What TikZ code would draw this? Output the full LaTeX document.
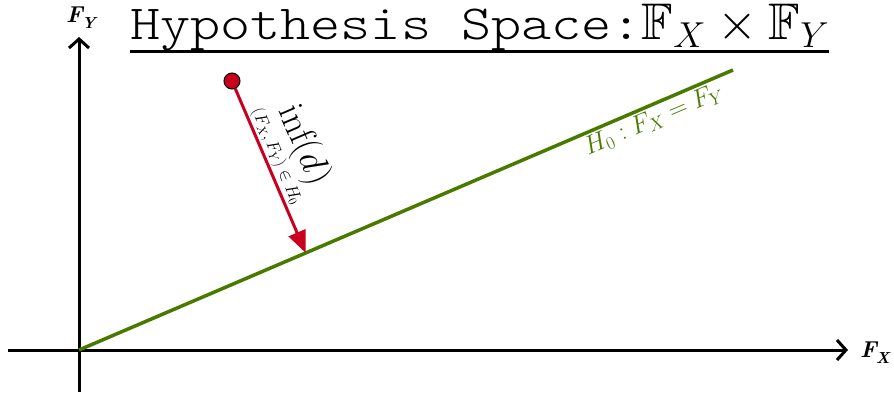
\RequirePackage{fix-cm}
\documentclass[tikz,border=0pt]{standalone}
\usepackage{amsmath,amssymb}
\usepackage{fontspec}
\setmonofont[FakeStretch=1.17]{Latin Modern Mono Light}
\usetikzlibrary{arrows.meta}
\definecolor{hgreen}{RGB}{72,122,0}
\definecolor{hred}{RGB}{200,0,30}
\newcommand{\axlabel}[1]{{\fontsize{23}{25}\selectfont\bfseries\itshape F\kern-1pt\raisebox{-0.25em}{\fontsize{16}{16}\selectfont #1}}}
\begin{document}
\begin{tikzpicture}[x=1pt,y=-1pt,
  axis/.style={line width=3pt,-{Straight Barb[length=9pt,width=20pt,line width=3pt]}},
  hline/.style={line width=3.5pt,hgreen},
  redarrow/.style={line width=3pt,hred,-{Triangle[length=22pt,width=18pt]}},
  dot/.style={circle,fill=hred,draw=black,line width=1pt,minimum size=16pt,inner sep=0pt},
  axlab/.style={inner sep=0pt}]
\useasboundingbox (0,0) rectangle (894,396);
\coordinate (o) at (79,350);
\coordinate (xs) at (8,350);
\coordinate (xe) at (848,350);
\coordinate (ys) at (79,392);
\coordinate (ye) at (79,37);
\draw[axis] (xs) -- (xe);
\draw[axis] (ys) -- (ye);
\node[axlab,anchor=west] (fx) at (860,353) {\axlabel{X}};
\node[axlab] (fy) at (81,18) {\axlabel{Y}};
\node[anchor=base west,inner sep=0pt,font=\fontsize{49}{52}\selectfont\ttfamily] (title) at (130,40) {Hypothesis Space:{\fontsize{51.5}{54}\selectfont$\mathbb{F}_X\times\mathbb{F}_Y$}};
\draw[line width=3pt] (title.west |- 0,52) -- (title.east |- 0,52);
\coordinate (h1) at (733,70);
\draw[hline] (o) -- node[pos=0.87,below=2pt,sloped,inner sep=0pt,text=hgreen,font=\fontsize{26}{28}\selectfont] (h0) {$H_0 : F_X = F_Y$} (h1);
\node[dot] (pt) at (232,81) {};
\coordinate (foot) at (305.7,252.9);
\draw[redarrow] (pt) -- node[pos=0.44,above=1pt,sloped,inner sep=0pt,align=center,text=black] (lab) {{\fontsize{37}{38}\selectfont$\inf(d)$}\\[1pt]{\fontsize{17}{18}\selectfont$(F_X,F_Y)\in H_0$}} (foot);
\end{tikzpicture}
\end{document}
